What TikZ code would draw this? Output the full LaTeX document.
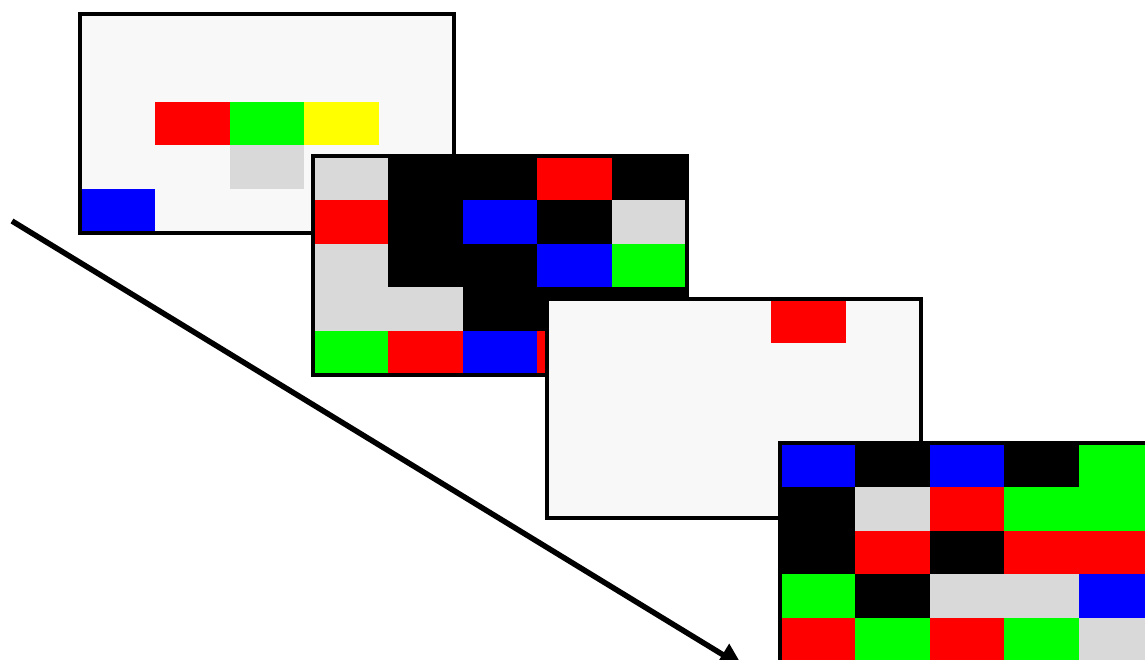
\documentclass[tikz,border=0pt]{standalone}
\usetikzlibrary{arrows.meta}
\definecolor{cW}{HTML}{F8F8F8}
\definecolor{cG}{HTML}{D9D9D9}
\definecolor{cR}{HTML}{FF0000}
\definecolor{cL}{HTML}{00FF00}
\definecolor{cB}{HTML}{0000FF}
\definecolor{cY}{HTML}{FFFF00}
\definecolor{cK}{HTML}{000000}
\newcommand\mygrid[4]{%
  \node[framebox] (#1) at (#2,#3) {};
  \begin{scope}[shift={(#2,#3)}]
    \foreach \row [count=\r from 0] in {#4} {
      \foreach \c [count=\k from 0] in \row {
        \fill[c\c] (\k*74.8,\r*43.8) rectangle ++(74.8,43.8);
      }
    }
  \end{scope}
  \draw[frameline] (#1.north west) rectangle (#1.south east);
}
\begin{document}
\begin{tikzpicture}[x=1pt,y=-1pt,
  framebox/.style={fill=cW, minimum width=374pt, minimum height=219pt, inner sep=0pt, outer sep=0pt, anchor=north west},
  frameline/.style={draw=black, line width=3.2pt},
  arrowline/.style={draw=black, line width=5.5pt, -{Triangle[length=24pt,width=24pt]}}]
\useasboundingbox (0,0) rectangle (1145,659);
\fill[white] (0,0) rectangle (1145,659);
\clip (0,0) rectangle (1145,659);
\mygrid{f1}{80}{14}{{W,W,W,W,W},{W,W,W,W,W},{W,R,L,Y,W},{W,W,G,W,W},{B,W,W,W,W}}
\mygrid{f2}{313}{156}{{G,K,K,R,K},{R,K,B,K,G},{G,K,K,B,L},{G,G,K,K,K},{L,R,B,R,K}}
\mygrid{f3}{547}{299}{{W,W,W,R,W},{W,W,W,W,W},{W,W,W,W,W},{W,W,W,W,W},{W,W,W,W,W}}
\mygrid{f4}{780}{443}{{B,K,B,K,L},{K,G,R,L,L},{K,R,K,R,R},{L,K,G,G,B},{R,L,R,L,G}}
\coordinate (as) at (12,221);
\coordinate (ae) at (743,667);
\draw[arrowline] (as) -- (ae);
\end{tikzpicture}
\end{document}
